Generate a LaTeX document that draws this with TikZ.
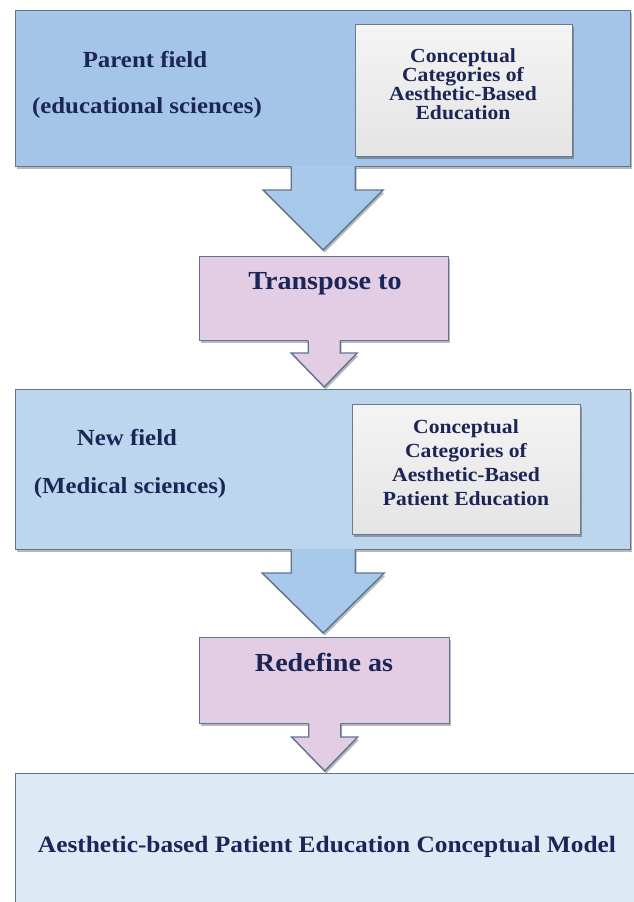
\documentclass[tikz,border=0pt]{standalone}
\usepackage{fontspec}
\setmainfont{Liberation Serif}[FakeStretch=1.08]
\usetikzlibrary{shadows,calc}
\definecolor{boxA}{HTML}{A4C5E8}
\definecolor{boxB}{HTML}{BCD6EE}
\definecolor{boxC}{HTML}{DDEAF6}
\definecolor{arrowBlue}{HTML}{A9C9EA}
\definecolor{pinkF}{HTML}{E2CDE4}
\definecolor{grayTop}{HTML}{F4F4F4}
\definecolor{grayBot}{HTML}{E4E4E4}
\definecolor{edgeC}{HTML}{5E7591}
\definecolor{grayEdge}{HTML}{6F7A86}
\definecolor{navy}{HTML}{1B2556}
\tikzset{
  shad/.style={drop shadow={shadow xshift=1.5pt, shadow yshift=-2.5pt, opacity=0.28, fill=black}},
  panel/.style={draw=edgeC, line width=1.4pt, anchor=north west, inner sep=0pt, shad},
  graypanel/.style={panel, draw=grayEdge, top color=grayTop, bottom color=grayBot},
  lab/.style={text=navy, font=\bfseries\fontsize{23}{27}\selectfont, inner sep=0pt},
  glab/.style={text=navy, font=\bfseries\fontsize{20}{19}\selectfont, align=center, inner sep=0pt},
  glabb/.style={text=navy, font=\bfseries\fontsize{20}{24}\selectfont, align=center, inner sep=0pt},
  plab/.style={text=navy, font=\bfseries\fontsize{26}{30}\selectfont, inner sep=0pt},
  mlab/.style={text=navy, font=\bfseries\fontsize{23.5}{28}\selectfont, inner sep=0pt},
  arrowline/.style={draw=edgeC, line width=1.4pt, line join=miter}
}
% #1 source node, #2 target node, #3 shaft half width, #4 head half width,
% #5 head length, #6 gap above target, #7 fill colour
\newcommand{\flowarrow}[7]{%
  \path[fill=#7, shad] let \p1=(#1.south), \p2=(#2.north) in
    (\x1-#3pt,\y1+1.5pt) -- (\x1-#3pt,\y2+#6pt+#5pt) -- (\x1-#4pt,\y2+#6pt+#5pt)
    -- (\x1,\y2+#6pt) -- (\x1+#4pt,\y2+#6pt+#5pt) -- (\x1+#3pt,\y2+#6pt+#5pt)
    -- (\x1+#3pt,\y1+1.5pt) -- cycle;
  \draw[arrowline] let \p1=(#1.south), \p2=(#2.north) in
    (\x1-#3pt,\y1+0.7pt) -- (\x1-#3pt,\y2+#6pt+#5pt) -- (\x1-#4pt,\y2+#6pt+#5pt)
    -- (\x1,\y2+#6pt) -- (\x1+#4pt,\y2+#6pt+#5pt) -- (\x1+#3pt,\y2+#6pt+#5pt)
    -- (\x1+#3pt,\y1+0.7pt);
}
\begin{document}
\begin{tikzpicture}[x=1pt,y=-1pt]
\useasboundingbox (0,0) rectangle (633,902);
\fill[white] (0,0) rectangle (633,902);

% boxes
\node[panel, fill=boxA, minimum width=615pt, minimum height=156pt] (b1) at (15,10) {};
\node[graypanel, minimum width=217pt, minimum height=132pt] (g1) at (355,24) {};
\node[panel, fill=pinkF, minimum width=249pt, minimum height=84pt] (p1) at (199,256) {};
\node[panel, fill=boxB, minimum width=615pt, minimum height=160pt] (b2) at (15,389) {};
\node[graypanel, minimum width=228pt, minimum height=130pt] (g2) at (352,404) {};
\node[panel, fill=pinkF, minimum width=250pt, minimum height=86pt] (p2) at (199,637) {};
\node[panel, fill=boxC, minimum width=640pt, minimum height=150pt] (b3) at (15,773) {};

% arrows
\flowarrow{b1}{p1}{32}{60}{60}{6}{arrowBlue}
\flowarrow{p1}{b2}{16}{33}{34}{2}{pinkF}
\flowarrow{b2}{p2}{32}{61}{60}{4}{arrowBlue}
\flowarrow{p2}{b3}{16}{33}{34}{2}{pinkF}

% texts
\node[lab, anchor=base] (t1) at (145,67) {Parent field};
\node[lab, anchor=base] (t2) at (147,113) {(educational sciences)};
\node[glab] (t3) at (463,84) {Conceptual\\Categories of\\Aesthetic-Based\\Education};
\node[plab, anchor=base] (t4) at (325,289) {Transpose to};
\node[lab, anchor=base] (t5) at (127,445) {New field};
\node[lab, anchor=base] (t6) at (130,493) {(Medical sciences)};
\node[glabb] (t7) at (466,463) {Conceptual\\Categories of\\Aesthetic-Based\\Patient Education};
\node[plab, anchor=base] (t8) at (324,671) {Redefine as};
\node[mlab, anchor=base] (t9) at (327,852) {Aesthetic-based Patient Education Conceptual Model};
\end{tikzpicture}
\end{document}
